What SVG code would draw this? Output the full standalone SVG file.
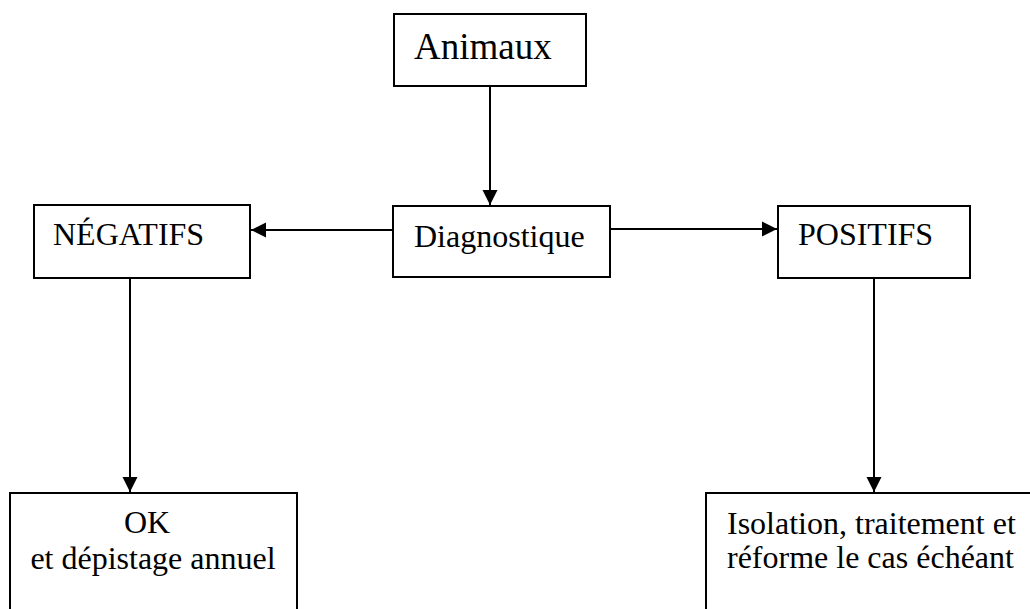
<svg xmlns="http://www.w3.org/2000/svg" width="1030" height="609" viewBox="0 0 1030 609">
<style>
.box{fill:#fff;stroke:#000;stroke-width:2}
.t{font-family:"Liberation Serif","Times New Roman",serif;font-size:32px;fill:#000}
.c{stroke:#000;stroke-width:2;fill:none}
</style>
<defs>
<marker id="ah" viewBox="0 0 10 10" refX="10" refY="5" markerWidth="15" markerHeight="16" markerUnits="userSpaceOnUse" orient="auto">
<path d="M0,0 L10,5 L0,10 Z" fill="#000"/>
</marker>
</defs>
<rect width="1030" height="609" fill="#fff"/>
<g id="connectors">
<line class="c" x1="490" y1="86" x2="490" y2="205" marker-end="url(#ah)"/>
<line class="c" x1="393" y1="230" x2="251" y2="230" marker-end="url(#ah)"/>
<line class="c" x1="610" y1="229" x2="777" y2="229" marker-end="url(#ah)"/>
<line class="c" x1="130" y1="278" x2="130" y2="492" marker-end="url(#ah)"/>
<line class="c" x1="874" y1="278" x2="874" y2="492" marker-end="url(#ah)"/>
</g>
<g id="animaux">
<rect class="box" x="394" y="14" width="192" height="72"/>
<text class="t" x="414" y="59" style="font-size:37px">Animaux</text>
</g>
<g id="diagnostique">
<rect class="box" x="393" y="206" width="217" height="71"/>
<text class="t" x="414" y="247">Diagnostique</text>
</g>
<g id="negatifs">
<rect class="box" x="34" y="205" width="216" height="73"/>
<text class="t" x="53" y="245">NÉGATIFS</text>
</g>
<g id="positifs">
<rect class="box" x="778" y="206" width="192" height="72"/>
<text class="t" x="798" y="245">POSITIFS</text>
</g>
<g id="ok">
<rect class="box" x="10" y="493" width="287" height="130"/>
<text class="t" x="147" y="533" text-anchor="middle">OK</text>
<text class="t" x="153" y="569" text-anchor="middle">et dépistage annuel</text>
</g>
<g id="isolation">
<rect class="box" x="706" y="493" width="340" height="130"/>
<text class="t" x="727" y="534">Isolation, traitement et</text>
<text class="t" x="727" y="568">réforme le cas échéant</text>
</g>
</svg>
